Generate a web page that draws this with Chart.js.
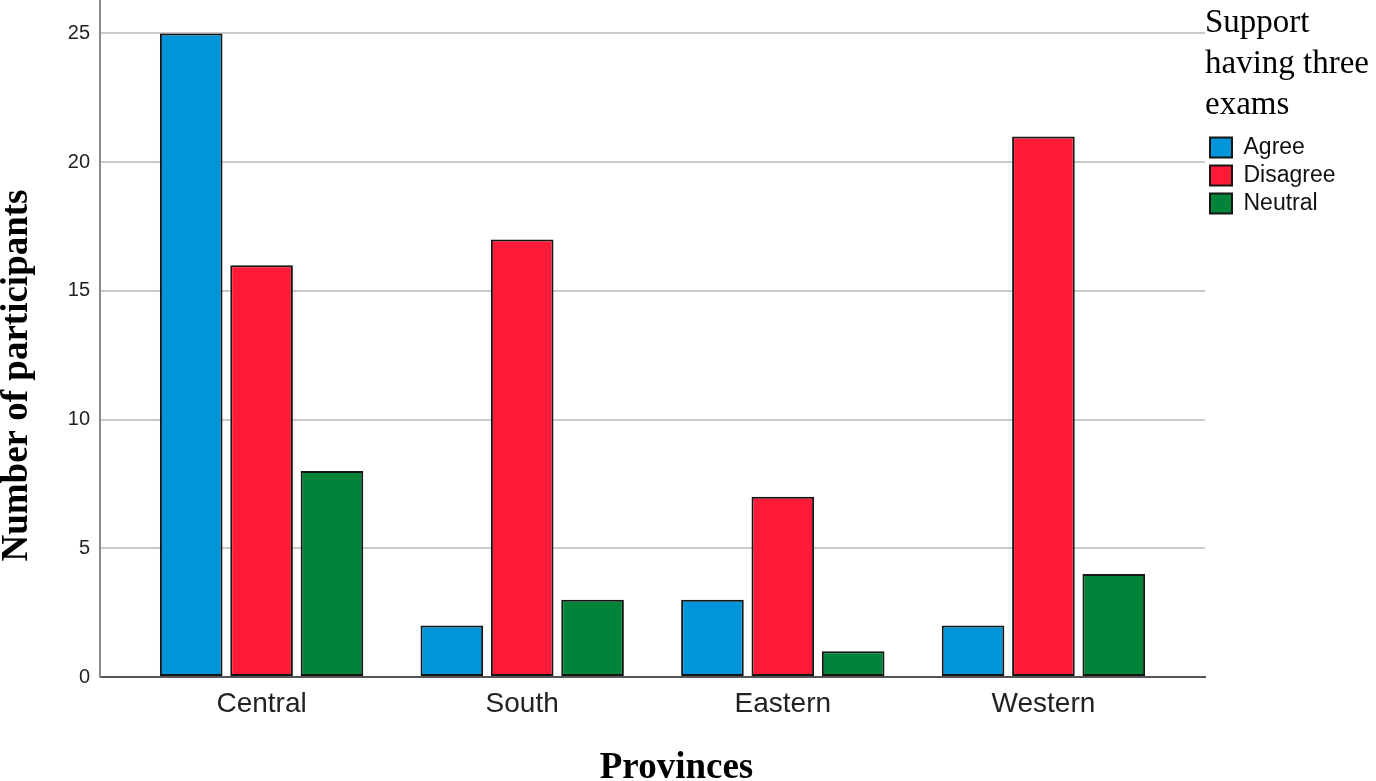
<!DOCTYPE html>
<html>
<head>
<meta charset="utf-8">
<title>Support having three exams by province</title>
<script src="https://cdn.jsdelivr.net/npm/chart.js@4.4.1/dist/chart.umd.min.js"></script>
<style>
  html, body { margin: 0; padding: 0; background: #fff; }
  #wrap { width: 1376px; height: 781px; }
</style>
</head>
<body>
<div id="wrap"><canvas id="grafica" width="1376" height="781"></canvas></div>
<script>
// Datos
const provinces = ['Central', 'South', 'Eastern', 'Western'];
const agree = [25, 2, 3, 2];
const disagree = [16, 17, 7, 21];
const neutral = [8, 3, 1, 4];
const yTicks = [0, 5, 10, 15, 20, 25];
const legendTitle = ['Support', 'having three', 'exams'];
const xTitle = 'Provinces';
const yTitle = 'Number of participants';

// each province sits at x = 0..3 on a linear axis
const toPoints = arr => arr.map((v, i) => ({ x: i, y: v }));

// axis titles in Times, drawn off-centre like the original
const axisTitles = {
    id: 'axisTitles',
    beforeUpdate(chart) {
        // the legend is clipped to its box, so make it wide enough for its title
        const lg = chart.legend;
        if (lg && !lg._wide) {
            const fit = lg.fit.bind(lg);
            lg.fit = function () {
                fit();
                this.width = Math.max(this.width, 171);
            };
            lg._wide = true;
        }
    },
    afterDraw(chart) {
        const { ctx, chartArea } = chart;
        ctx.save();
        ctx.fillStyle = '#000';
        ctx.font = 'bold 37px "Liberation Serif"';
        ctx.textAlign = 'center';
        ctx.textBaseline = 'alphabetic';
        ctx.fillText(xTitle, (chartArea.left + chartArea.right) / 2 + 24, chart.height - 3);
        ctx.translate(27, (chartArea.top + chartArea.bottom) / 2 + 37);
        ctx.rotate(-Math.PI / 2);
        ctx.fillText(yTitle, 0, 0);
        ctx.restore();
    }
};

const barStyle = {
    borderColor: '#151515',
    borderWidth: 2,
    borderSkipped: false,
    categoryPercentage: 0.81,
    barPercentage: 0.89
};

const ctx = document.getElementById('grafica').getContext('2d');
const chart = new Chart(ctx, {
    type: 'bar',
    data: {
        datasets: [
            { label: 'Agree', data: toPoints(agree), backgroundColor: '#0095db', ...barStyle },
            { label: 'Disagree', data: toPoints(disagree), backgroundColor: '#ff1b37', ...barStyle },
            { label: 'Neutral', data: toPoints(neutral), backgroundColor: '#02833a', ...barStyle }
        ]
    },
    options: {
        responsive: false,
        animation: false,
        layout: { padding: { left: 0, right: 0, top: 0, bottom: 0 } },
        plugins: {
            tooltip: { enabled: false },
            legend: {
                position: 'right',
                align: 'start',
                title: {
                    display: true,
                    text: legendTitle,
                    position: 'start',
                    color: '#000',
                    font: { family: '"Liberation Serif"', size: 33, lineHeight: 1.24 },
                    padding: { top: 6.5, bottom: 83.6 }
                },
                labels: {
                    boxWidth: 22,
                    boxHeight: 20,
                    padding: 5,
                    color: '#111',
                    font: { family: '"Liberation Sans"', size: 23 }
                }
            }
        },
        scales: {
            x: {
                type: 'linear',
                offset: false,
                min: -0.62,
                max: 3.62,
                grid: { display: false, offset: false, drawTicks: false },
                border: { display: true, color: '#555', width: 2 },
                ticks: {
                    padding: 10,
                    color: '#222',
                    font: { family: '"Liberation Sans"', size: 28 },
                    callback: v => provinces[v] ?? ''
                },
                afterBuildTicks: scale => {
                    scale.ticks = provinces.map((p, i) => ({ value: i }));
                },
                afterFit: scale => {
                    scale.height = 104;
                }
            },
            y: {
                min: 0,
                max: 26.3,
                grid: { color: '#cacaca', lineWidth: 2, drawTicks: false },
                border: { display: true, color: '#8a8a8a', width: 2 },
                ticks: {
                    padding: 10,
                    color: '#222',
                    font: { family: '"Liberation Sans"', size: 20 }
                },
                afterBuildTicks: scale => {
                    scale.ticks = yTicks.map(v => ({ value: v }));
                },
                afterFit: scale => {
                    scale.width = 100;
                    scale.paddingTop = 0;
                    scale.paddingBottom = 0;
                }
            }
        }
    },
    plugins: [axisTitles]
});

console.log('chart area', JSON.stringify(chart.chartArea));
</script>
</body>
</html>
